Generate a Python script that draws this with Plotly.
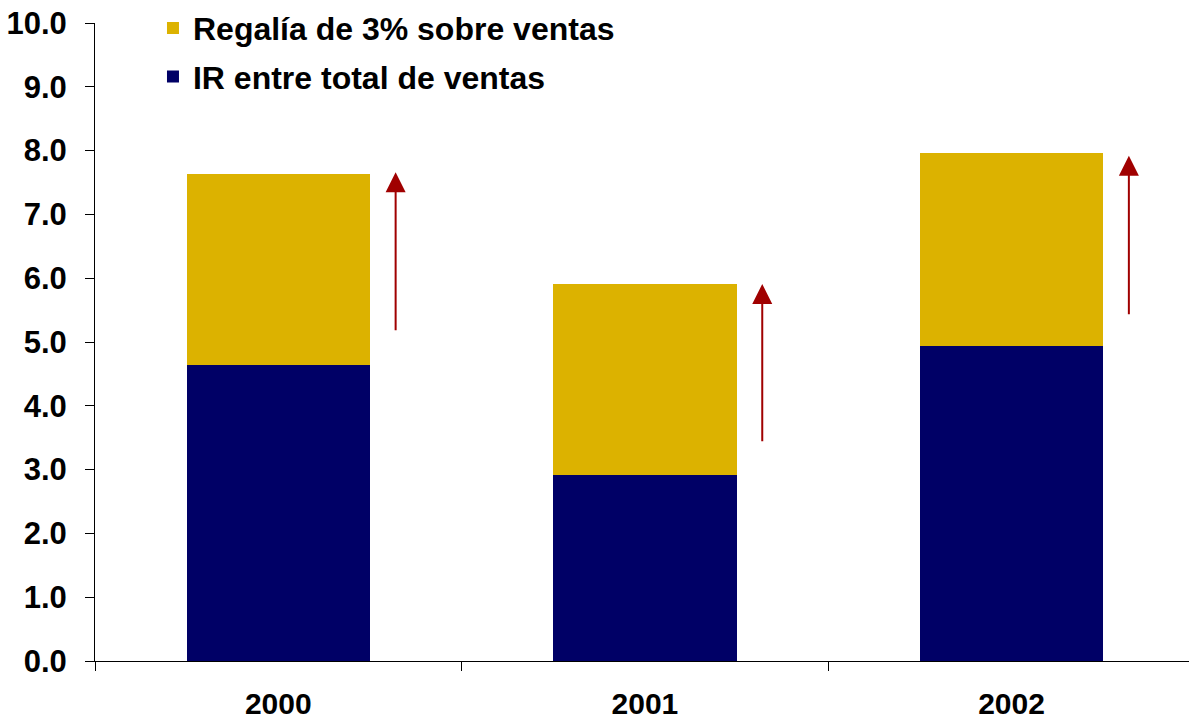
import plotly.graph_objects as go

years = ["2000", "2001", "2002"]
ir_ventas = [4.64, 2.92, 4.94]
regalia = [2.99, 2.99, 3.03]
arrow_bottom = [5.16, 3.42, 5.41]
arrow_top = [7.66, 5.91, 7.92]
y_ticks = [0, 1, 2, 3, 4, 5, 6, 7, 8, 9, 10]

NAVY = "#000066"
GOLD = "#DCB200"
RED = "#A00000"
FONT = "Liberation Sans, Arial, sans-serif"

fig = go.Figure()
fig.add_trace(go.Bar(x=years, y=ir_ventas, name="IR entre total de ventas",
                     marker=dict(color=NAVY, line=dict(width=0)), width=0.5,
                     legendgroup="b", legendrank=2))
fig.add_trace(go.Bar(x=years, y=regalia, name="Regalía de 3% sobre ventas",
                     marker=dict(color=GOLD, line=dict(width=0)), width=0.5,
                     legendgroup="a", legendrank=1))

for i, yr in enumerate(years):
    fig.add_annotation(x=i + 0.32, y=arrow_top[i], ax=i + 0.32, ay=arrow_bottom[i],
                       xref="x", yref="y", axref="x", ayref="y", text="",
                       showarrow=True, arrowhead=2, arrowsize=2, arrowwidth=2,
                       arrowcolor=RED, standoff=0, startstandoff=0)


def bold(size):
    return dict(family=FONT, size=size, color="black", weight="bold")


fig.update_layout(
    width=1189, height=721,
    barmode="stack",
    paper_bgcolor="white", plot_bgcolor="white",
    margin=dict(l=95, r=0, t=23, b=60, autoexpand=False),
    font=bold(30),
    showlegend=True,
    legend=dict(x=0.053, y=1.035, xanchor="left", yanchor="top",
                traceorder="grouped", tracegroupgap=4,
                bgcolor="rgba(0,0,0,0)", font=bold(32)),
    bargap=0.5,
)
fig.update_xaxes(type="category", range=[-0.5, 2.484], showline=True, linecolor="black",
                 linewidth=1, ticks="outside", tickson="boundaries", ticklen=9,
                 tickcolor="black", showgrid=False, zeroline=False, automargin=False,
                 tickfont=bold(30), ticklabelstandoff=16, ticklabeloverflow="allow")
fig.update_yaxes(range=[0, 10], tickvals=y_ticks,
                 ticktext=[f"{v:.1f}" for v in y_ticks],
                 showline=True, linecolor="black", linewidth=1, ticks="outside",
                 ticklen=9, tickcolor="black", showgrid=False, zeroline=False,
                 automargin=False, tickfont=bold(31), ticklabelstandoff=12,
                 ticklabeloverflow="allow")

fig.write_html(
    "out.html",
    config={"displayModeBar": False},
    post_script="document.body.style.margin='0';document.body.style.overflow='hidden';",
)
